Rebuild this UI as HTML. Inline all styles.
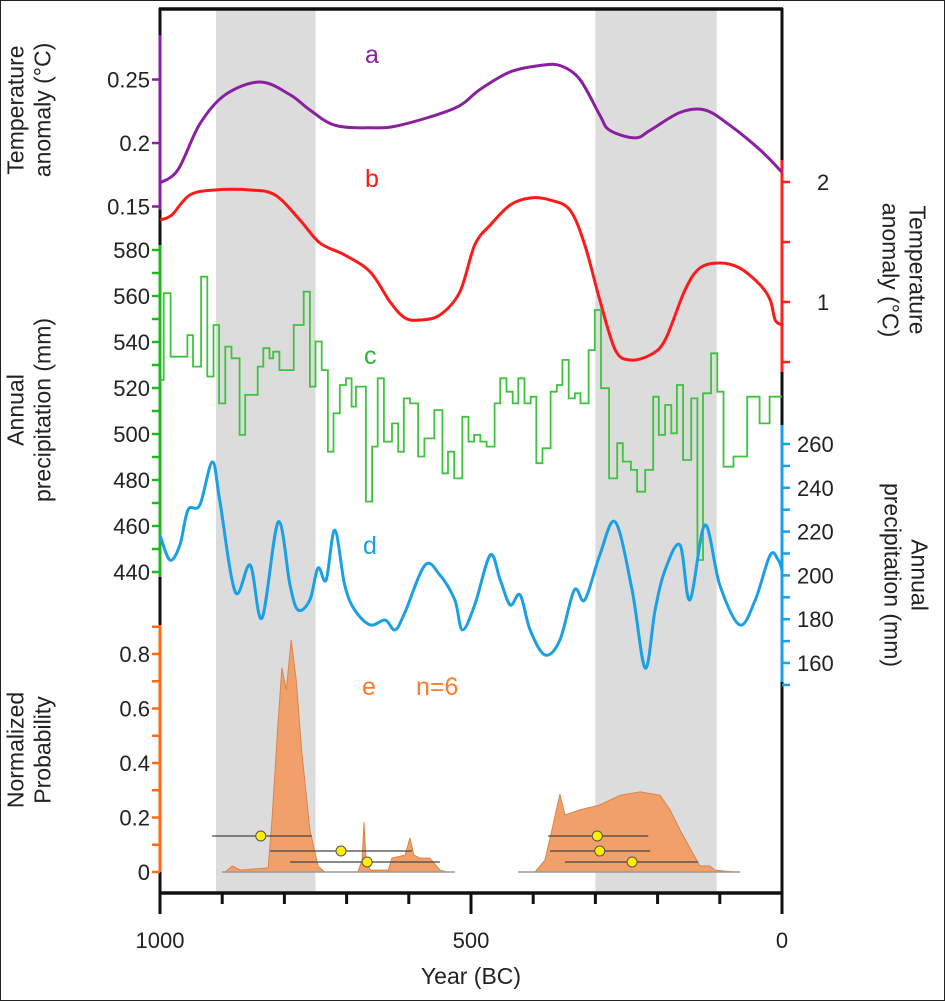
<!DOCTYPE html>
<html><head><meta charset="utf-8"><style>
html,body{margin:0;padding:0;background:#fff;}
#wrap{width:943px;height:999px;border:1px solid #222;position:relative;overflow:hidden;}
svg{display:block;font-family:"Liberation Sans",sans-serif;}
</style></head><body>
<div id="wrap">
<svg id="chart" width="943" height="999" viewBox="1 1 943 999"></svg>
</div>
<script>
// ---- data ----
const bandStarts = [910, 300];
const bandEnds = [750, 105];
const tempAYears = [1000,971,936,895,839,791,759,719,662,614,526,486,437,389,357,325,293,277,236,212,164,124,84,35,0];
const tempAVals = [0.1685,0.179,0.215,0.238,0.248,0.238,0.226,0.214,0.212,0.214,0.2275,0.242,0.256,0.261,0.261,0.25,0.222,0.210,0.204,0.210,0.224,0.226,0.214,0.1945,0.177];
const tempBYears = [1000,981,952,912,855,815,775,743,703,662,630,606,582,550,518,494,469,437,405,373,341,317,293,268,244,212,188,156,132,100,68,35,19,11,0];
const tempBVals = [1.683,1.725,1.892,1.933,1.933,1.892,1.683,1.492,1.392,1.25,1.0,0.867,0.85,0.892,1.083,1.475,1.642,1.808,1.867,1.85,1.767,1.475,1.017,0.6,0.517,0.558,0.683,1.1,1.283,1.325,1.283,1.142,1.017,0.85,0.808];
const precipCYears = [1000,994,983,956,947,934,924,914,905,895,885,872,863,843,834,824,818,808,785,769,759,750,740,730,721,711,701,692,685,669,659,650,640,627,617,608,598,585,575,559,546,537,527,514,504,495,485,475,462,453,443,433,424,414,404,395,385,372,362,353,343,333,324,311,301,291,278,265,256,243,233,220,207,198,188,178,169,159,146,136,127,114,104,94,78,56,36,20];
const precipCVals = [523.5,561.2,533.6,543.0,529.3,568.4,525.0,547.4,513.3,538.0,532.9,499.6,517.0,529.3,537.3,532.9,535.8,527.8,547.4,561.9,520.6,540.2,527.8,492.3,509.0,521.3,524.2,511.9,520.6,470.6,494.5,524.2,496.7,504.6,492.3,515.5,513.3,490.2,498.1,510.4,482.9,492.3,480.7,507.5,496.7,499.6,496.7,494.5,513.3,524.2,518.4,513.3,524.2,513.3,516.2,487.3,493.8,518.4,521.3,532.2,515.5,517.7,513.3,536.5,553.9,519.9,480.7,496.0,488.0,484.4,474.9,484.4,516.2,499.6,512.6,500.3,521.3,488.7,515.5,445.2,517.7,535.1,518.4,485.8,490.2,516.2,504.6,516.2];
const precipDYears = [1000,984,968,955,936,916,904,879,855,836,810,791,778,759,746,733,719,703,687,662,638,622,606,574,550,526,514,494,469,453,437,421,405,381,357,334,317,293,268,241,220,204,188,164,148,124,100,68,43,19,6,0];
const precipDVals = [218.4,207.0,213.9,229.9,232.1,251.8,234.4,192.4,204.7,180.5,224.4,195.6,184.2,188.8,203.4,197.9,220.7,195.6,184.2,177.4,179.6,175.1,183.3,204.7,200.2,188.8,175.1,186.5,209.3,197.9,186.5,191.1,175.1,163.7,170.5,193.3,188.8,209.3,224.4,193.3,157.7,184.2,202.5,213.9,188.8,223.0,195.6,177.4,188.8,209.3,207.0,202.5];
const prob1Years = [895,884,871,826,820,810,804,797,789,781,772,759,746,735,682,675,672,669,662,633,627,606,598,592,582,566,550,539];
const prob1Vals = [0,0.022,0.007,0.015,0.191,0.558,0.749,0.668,0.851,0.705,0.440,0.154,0.022,0,0,0.044,0.183,0.051,0.007,0.007,0.051,0.062,0.125,0.062,0.051,0.051,0.007,0];
const prob2Years = [397,381,370,357,349,325,293,260,228,196,180,164,148,132,116,108,76];
const prob2Vals = [0,0.044,0.154,0.286,0.209,0.228,0.246,0.282,0.294,0.282,0.228,0.154,0.088,0.022,0.022,0.007,0];
const dateMid = [838,709,667,297,293,241];
const dateLo = [916,823,791,376,373,349];
const dateHi = [756,595,550,215,212,135];
const dateRow = [0,1,2,0,1,2];
const yTicksA = [0.15,0.2,0.25];
const yTicksB = [2,1];
const yTicksC = [580,560,540,520,500,480,460,440];
const yTicksD = [260,240,220,200,180,160];
const yTicksE = [0.8,0.6,0.4,0.2,0];
const xTicks = [1000,500,0];

// ---- scales ----
const X = yr => 782 - yr*0.622;
const YA = v => 143 - (v-0.2)*1270;
const YB = v => 302 - (v-1)*120;
const YC = v => 250 + (580-v)*2.3;
const YD = v => 444 + (260-v)*2.19;
const YE = v => 872 - v*272.5;

const svg = document.getElementById('chart');
const NS = 'http://www.w3.org/2000/svg';
function mk(tag, attrs, parent){const e=document.createElementNS(NS,tag);for(const k in attrs)e.setAttribute(k,attrs[k]);(parent||svg).appendChild(e);return e;}
function smooth(pts){let d='M'+pts[0][0].toFixed(1)+','+pts[0][1].toFixed(1);for(let i=0;i<pts.length-1;i++){const p0=pts[i-1]||pts[i],p1=pts[i],p2=pts[i+1],p3=pts[i+2]||p2;const c1=[p1[0]+(p2[0]-p0[0])/6,p1[1]+(p2[1]-p0[1])/6],c2=[p2[0]-(p3[0]-p1[0])/6,p2[1]-(p3[1]-p1[1])/6];d+=`C${c1[0].toFixed(1)},${c1[1].toFixed(1)} ${c2[0].toFixed(1)},${c2[1].toFixed(1)} ${p2[0].toFixed(1)},${p2[1].toFixed(1)}`;}return d;}
function txt(x,y,s,attrs){const t=mk('text',Object.assign({x:x,y:y,'font-size':22,fill:'#222'},attrs||{}));t.textContent=s;return t;}

// bands
for(let i=0;i<bandStarts.length;i++){
  const r=mk('rect',{x:X(bandStarts[i]),y:9,width:X(bandEnds[i])-X(bandStarts[i]),height:884,fill:'#dcdcdc'});
  
  
}

// frame lines
let f=mk('line',{x1:159,y1:9,x2:783,y2:9,stroke:'#111','stroke-width':3.5});

f=mk('line',{x1:160,y1:8,x2:160,y2:893,stroke:'#111','stroke-width':3});

f=mk('line',{x1:782,y1:8,x2:782,y2:893,stroke:'#111','stroke-width':3});

f=mk('line',{x1:159,y1:893,x2:783,y2:893,stroke:'#111','stroke-width':3.5});


// colored axis segments + ticks
function axisSeg(name,x,y1,y2,color,ticks,dir,len){
  const g=mk('g',{});
  
  
  mk('line',{x1:x,y1:y1,x2:x,y2:y2,stroke:color,'stroke-width':3},g);
  ticks.forEach(t=>mk('line',{x1:x,y1:t,x2:x+dir*len,y2:t,stroke:color,'stroke-width':2.5},g));
  return g;
}
axisSeg('axis-a-left',160,35,210,'#8a1fa0',yTicksA.map(YA),-1,8);
let ct=[];for(let v=440;v<=580;v+=10)ct.push(YC(v));
axisSeg('axis-c-left',160,245,577,'#1fb81f',ct,-1,8);
let et=[];for(let k=0;k<=9;k++)et.push(YE(k/10));
axisSeg('axis-e-left',160,625,872,'#ff6a10',et,-1,8);
axisSeg('axis-b-right',782,160,372,'#ff2020',[2,1.5,1,0.5].map(YB),1,8);
let dt=[];for(let v=150;v<=260;v+=10)dt.push(YD(v));
axisSeg('axis-d-right',782,425,682,'#1aa0e6',dt,1,8);

// tick labels
yTicksA.forEach(v=>{const t=txt(150,YA(v)+8,String(v),{'text-anchor':'end'});});
yTicksC.forEach(v=>{const t=txt(150,YC(v)+8,String(v),{'text-anchor':'end'});});
yTicksE.forEach(v=>{const t=txt(150,YE(v)+8,String(v),{'text-anchor':'end'});});
yTicksB.forEach(v=>{const t=txt(817,YB(v)+8,String(v));});
yTicksD.forEach(v=>{const t=txt(797,YD(v)+8,String(v));});

// x ticks
for(let yr=0;yr<=1000;yr+=100){
  const big=yr%500===0;
  const l=mk('line',{x1:X(yr),y1:893,x2:X(yr),y2:big?914:904,stroke:'#111','stroke-width':3});
  
  
}
xTicks.forEach(v=>{const t=txt(X(v),948,String(v),{'text-anchor':'middle'});});
let t=txt(471,984,'Year (BC)',{'text-anchor':'middle','font-size':23});


// axis titles
function vtitle(name,cx,cy,lines,rot){
  const g=mk('g',{transform:`translate(${cx},${cy}) rotate(${rot})`});
  
  
  lines.forEach((s,i)=>{const e=mk('text',{x:0,y:(i-(lines.length-1)/2)*27+8,'text-anchor':'middle','font-size':23,fill:'#222'},g);e.textContent=s;});
}
vtitle('y-axis-title-a',29,110,['Temperature','anomaly (°C)'],-90);
vtitle('y-axis-title-c',29,410,['Annual','precipitation (mm)'],-90);
vtitle('y-axis-title-e',29,750,['Normalized','Probability'],-90);
vtitle('y-axis-title-b',904,270,['Temperature','anomaly (°C)'],90);
vtitle('y-axis-title-d',906,575,['Annual','precipitation (mm)'],90);

// series a
let p=mk('path',{d:smooth(tempAYears.map((y,i)=>[X(y),YA(tempAVals[i])])),fill:'none',stroke:'#8a1fa0','stroke-width':3});

// series b
p=mk('path',{d:smooth(tempBYears.map((y,i)=>[X(y),YB(tempBVals[i])])),fill:'none',stroke:'#ff1a1a','stroke-width':3});

// series c (step)
let d='';
for(let i=0;i<precipCYears.length;i++){
  const x0=X(precipCYears[i]),x1=X(i+1<precipCYears.length?precipCYears[i+1]:0),y=YC(precipCVals[i]);
  d+=(i===0?'M':'L')+x0.toFixed(1)+','+y.toFixed(1)+'L'+x1.toFixed(1)+','+y.toFixed(1);
}
p=mk('path',{d:d,fill:'none',stroke:'#3cc43c','stroke-width':1.8});

// series d
p=mk('path',{d:smooth(precipDYears.map((y,i)=>[X(y),YD(precipDVals[i])])),fill:'none',stroke:'#1aa0e6','stroke-width':3});


// series e areas
function area(name,ys,vs){
  let dd='M'+X(ys[0]).toFixed(1)+','+YE(0);
  ys.forEach((y,i)=>dd+='L'+X(y).toFixed(1)+','+YE(vs[i]).toFixed(1));
  dd+='L'+X(ys[ys.length-1]).toFixed(1)+','+YE(0)+'Z';
  const a=mk('path',{d:dd,fill:'#f2a06a',stroke:'#d9844a','stroke-width':1});
  
}
area('probability-area-1',prob1Years,prob1Vals);
area('probability-area-2',prob2Years,prob2Vals);
let b=mk('line',{x1:222,y1:872,x2:455,y2:872,stroke:'#999','stroke-width':1.5});

b=mk('line',{x1:518,y1:872,x2:740,y2:872,stroke:'#999','stroke-width':1.5});

const rowY=[836,851,862];
for(let i=0;i<dateMid.length;i++){
  const y=rowY[dateRow[i]];
  const l=mk('line',{x1:X(dateLo[i]),y1:y,x2:X(dateHi[i]),y2:y,stroke:'#444','stroke-width':1.3});
  
  const c=mk('circle',{cx:X(dateMid[i]),cy:y,r:5,fill:'#ffee00',stroke:'#555','stroke-width':1});
  
}

// series letters
[['a',365,63,'#8a1fa0','series-label-a'],['b',365,187,'#ff1a1a','series-label-b'],['c',364,364,'#2bb52b','series-label-c'],['d',363,554,'#1aa0e6','series-label-d'],['e',362,695,'#ff7a2a','series-label-e'],['n=6',416,695,'#ff7a2a','sample-count-label']].forEach(s=>{
  const e=txt(s[1],s[2],s[0],{fill:s[3],'font-size':25});
  
  
});
</script>
</body></html>
